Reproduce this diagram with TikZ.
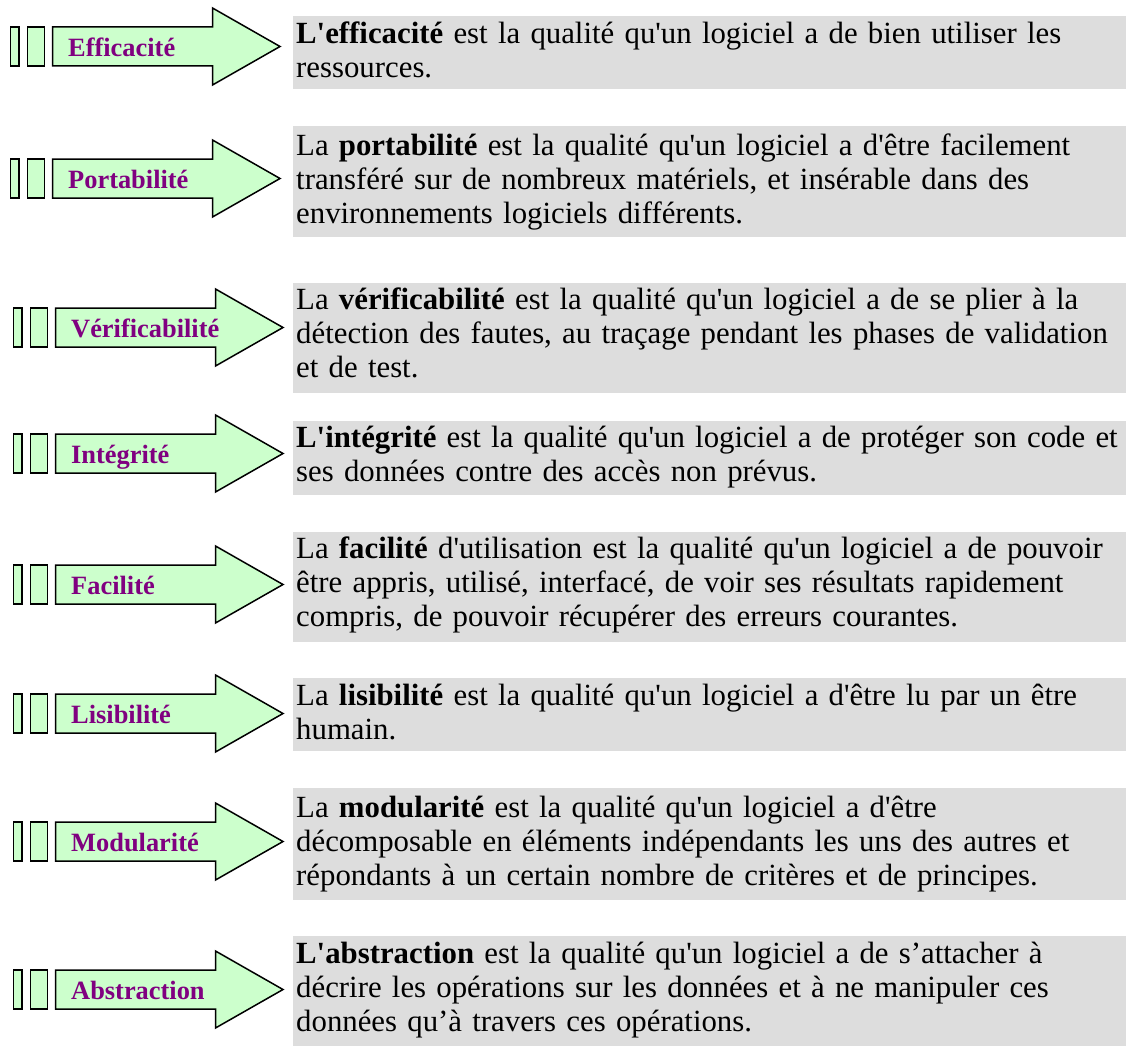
\documentclass[tikz,border=0pt]{standalone}
\usepackage{fontspec}
\newfontfamily\qserif{Liberation Serif}
\definecolor{argreen}{HTML}{CCFFCC}
\definecolor{lblpurple}{HTML}{800080}
\definecolor{boxgrey}{HTML}{DDDDDD}
\tikzset{
 arrowshape/.style={draw=black, line width=1.5pt, fill=argreen, line join=miter},
 barbox/.style={draw=black, line width=1.5pt, fill=argreen},
 lbl/.style={anchor=base west, inner sep=0pt, font=\qserif\fontsize{26.4}{30}\selectfont\bfseries, text=lblpurple},
 greybox/.style={fill=boxgrey, draw=none, anchor=north west, inner sep=0pt, minimum width=833pt},
 bodytext/.style={anchor=base west, inner sep=0pt, text width=900pt, align=left, font=\qserif\fontsize{30.8}{34}\selectfont},
}
\newcommand\qarrow[4]{%
 \draw[barbox] (10.5+#2, #1-19.5) rectangle (19+#2, #1+19.5);
 \draw[barbox] (27.5+#2, #1-19.5) rectangle (44.5+#2, #1+19.5);
 \draw[arrowshape] (52.5+#2, #1-19.5) -- (212.5+#2, #1-19.5) -- (212.5+#2, #1-38.5) -- (280+#2, #1) -- (212.5+#2, #1+38.5) -- (212.5+#2, #1+19.5) -- (52.5+#2, #1+19.5) -- cycle;
 \node[lbl] (#4) at (68+#2, #1+10) {#3};
}
\begin{document}
\begin{tikzpicture}[x=1pt,y=-1pt]
\useasboundingbox (0,0) rectangle (1126,1046);
% grey boxes
\node[greybox, minimum height=73pt] (g1) at (293,16) {};
\node[greybox, minimum height=111pt] (g2) at (293,126) {};
\node[greybox, minimum height=110pt] (g3) at (293,283) {};
\node[greybox, minimum height=74pt] (g4) at (293,421) {};
\node[greybox, minimum height=110pt] (g5) at (293,532) {};
\node[greybox, minimum height=73pt] (g6) at (293,678) {};
\node[greybox, minimum height=112pt] (g7) at (293,788) {};
\node[greybox, minimum height=110pt] (g8) at (293,936) {};
% arrows
\qarrow{46.5}{0}{Efficacité}{l1}
\qarrow{178.5}{0}{Portabilité}{l2}
\qarrow{327.5}{3}{Vérificabilité}{l3}
\qarrow{453.5}{3}{Intégrité}{l4}
\qarrow{584.5}{3}{Facilité}{l5}
\qarrow{713.5}{3}{Lisibilité}{l6}
\qarrow{841.5}{3}{Modularité}{l7}
\qarrow{989.5}{3}{Abstraction}{l8}
% texts
\node[bodytext] (d1) at (296,44) {\textbf{L'efficacité} est la qualité qu'un logiciel a de bien utiliser les\\ressources.};
\node[bodytext] (d2) at (296,155) {La \textbf{portabilité} est la qualité qu'un logiciel a d'être facilement\\transféré sur de nombreux matériels, et insérable dans des\\environnements logiciels différents.};
\node[bodytext] (d3) at (296,309) {La \textbf{vérificabilité} est la qualité qu'un logiciel a de se plier à la\\détection des fautes, au traçage pendant les phases de validation\\et de test.};
\node[bodytext] (d4) at (296,447) {\textbf{L'intégrité} est la qualité qu'un logiciel a de protéger son code et\\ses données contre des accès non prévus.};
\node[bodytext] (d5) at (296,558) {La \textbf{facilité} d'utilisation est la qualité qu'un logiciel a de pouvoir\\être appris, utilisé, interfacé, de voir ses résultats rapidement\\compris, de pouvoir récupérer des erreurs courantes.};
\node[bodytext] (d6) at (296,705) {La \textbf{lisibilité} est la qualité qu'un logiciel a d'être lu par un être\\humain.};
\node[bodytext] (d7) at (296,817) {La \textbf{modularité} est la qualité qu'un logiciel a d'être\\décomposable en éléments indépendants les uns des autres et\\répondants à un certain nombre de critères et de principes.};
\node[bodytext] (d8) at (296,963) {\textbf{L'abstraction} est la qualité qu'un logiciel a de s’attacher à\\décrire les opérations sur les données et à ne manipuler ces\\données qu’à travers ces opérations.};
\end{tikzpicture}
\end{document}
